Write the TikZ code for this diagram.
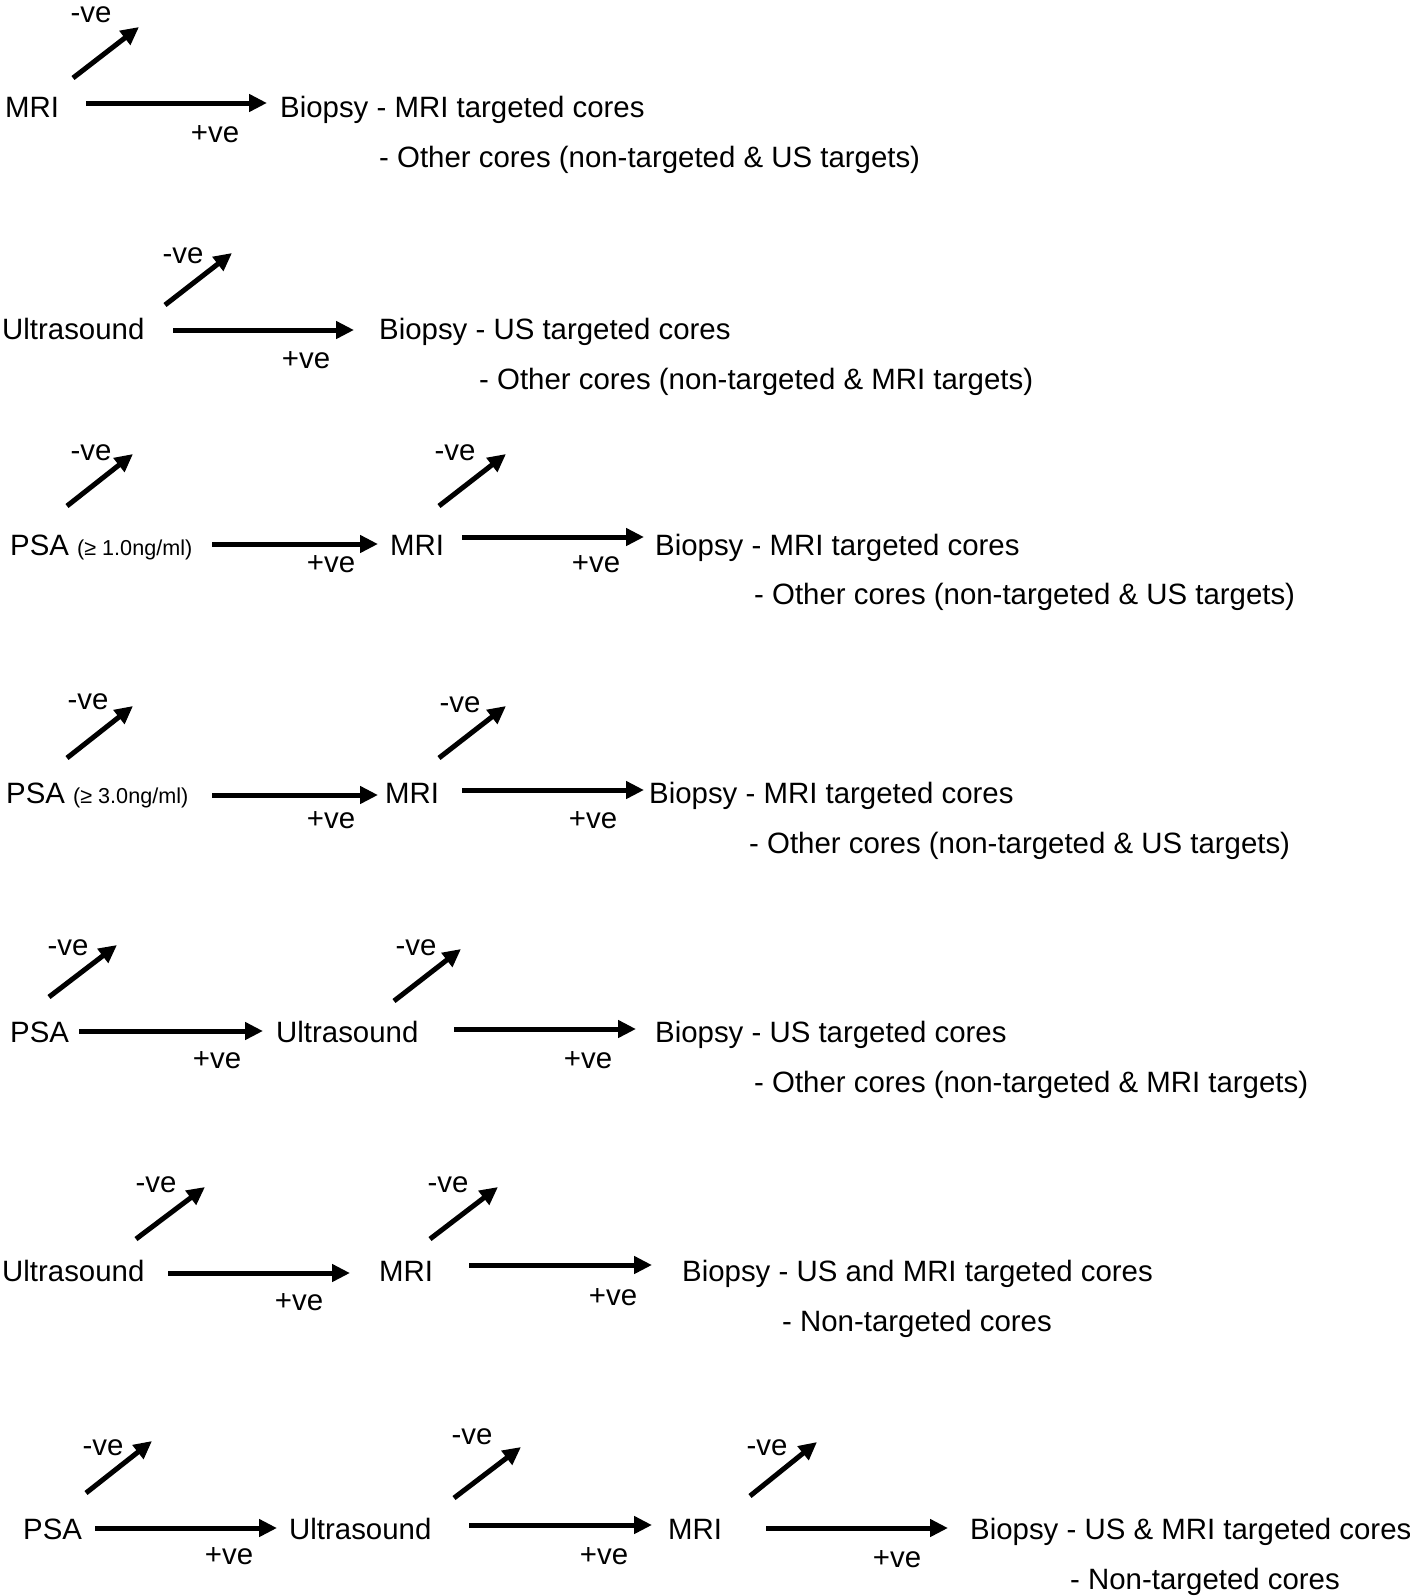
\documentclass[tikz,border=0pt]{standalone}
\usepackage{fontspec}
\setmainfont{Liberation Sans}
\usetikzlibrary{arrows.meta}
\newcommand{\smalltxt}[1]{{\fontsize{21.6}{25}\selectfont #1}}
\begin{document}
\begin{tikzpicture}[x=1pt,y=-1pt,
 arr/.style={line width=5pt,-{Triangle[length=18pt,width=17pt]}},
 txt/.style={anchor=base west,inner sep=0pt,font=\fontsize{29.4}{35}\selectfont},
 lbl/.style={anchor=base,inner sep=0pt,font=\fontsize{29.4}{35}\selectfont}]
\useasboundingbox (0,0) rectangle (1410,1596);

% Row 1
\node[txt] (r1a) at (5,117) {MRI};
\node[txt] (r1b) at (280,117) {Biopsy - MRI targeted cores};
\node[txt] (r1c) at (379,167) {- Other cores (non-targeted \& US targets)};
\node[lbl] (r1n) at (91,22) {-ve};
\node[lbl] (r1p) at (215,142) {+ve};
\draw[arr] (86,103) coordinate (r1s) -- (267,103) coordinate (r1e);
\draw[arr] (73,78) coordinate (r1ds) -- (139,27) coordinate (r1de);

% Row 2
\node[txt] (r2a) at (2,339) {Ultrasound};
\node[txt] (r2b) at (379,339) {Biopsy - US targeted cores};
\node[txt] (r2c) at (479,389) {- Other cores (non-targeted \& MRI targets)};
\node[lbl] (r2n) at (183,263) {-ve};
\node[lbl] (r2p) at (306,368) {+ve};
\draw[arr] (173,330) coordinate (r2s) -- (354,330) coordinate (r2e);
\draw[arr] (165,305) coordinate (r2ds) -- (232,253) coordinate (r2de);

% Row 3
\node[txt] (r3a) at (10,555) {PSA \smalltxt{(≥ 1.0ng/ml)}};
\node[txt] (r3m) at (390,555) {MRI};
\node[txt] (r3b) at (655,555) {Biopsy - MRI targeted cores};
\node[txt] (r3c) at (754,604) {- Other cores (non-targeted \& US targets)};
\node[lbl] (r3n1) at (91,460) {-ve};
\node[lbl] (r3n2) at (455,460) {-ve};
\node[lbl] (r3p1) at (331,572) {+ve};
\node[lbl] (r3p2) at (596,572) {+ve};
\draw[arr] (212,544) coordinate (r3s1) -- (378,544) coordinate (r3e1);
\draw[arr] (462,537) coordinate (r3s2) -- (644,537) coordinate (r3e2);
\draw[arr] (67,506) coordinate (r3ds1) -- (133,454) coordinate (r3de1);
\draw[arr] (439,506) coordinate (r3ds2) -- (506,454) coordinate (r3de2);

% Row 4
\node[txt] (r4a) at (6,803) {PSA \smalltxt{(≥ 3.0ng/ml)}};
\node[txt] (r4m) at (385,803) {MRI};
\node[txt] (r4b) at (649,803) {Biopsy - MRI targeted cores};
\node[txt] (r4c) at (749,853) {- Other cores (non-targeted \& US targets)};
\node[lbl] (r4n1) at (88,709) {-ve};
\node[lbl] (r4n2) at (460,712) {-ve};
\node[lbl] (r4p1) at (331,828) {+ve};
\node[lbl] (r4p2) at (593,828) {+ve};
\draw[arr] (212,795) coordinate (r4s1) -- (378,795) coordinate (r4e1);
\draw[arr] (462,790) coordinate (r4s2) -- (644,790) coordinate (r4e2);
\draw[arr] (67,758) coordinate (r4ds1) -- (133,706) coordinate (r4de1);
\draw[arr] (439,758) coordinate (r4ds2) -- (506,706) coordinate (r4de2);

% Row 5
\node[txt] (r5a) at (10,1042) {PSA};
\node[txt] (r5u) at (276,1042) {Ultrasound};
\node[txt] (r5b) at (655,1042) {Biopsy - US targeted cores};
\node[txt] (r5c) at (754,1092) {- Other cores (non-targeted \& MRI targets)};
\node[lbl] (r5n1) at (68,955) {-ve};
\node[lbl] (r5n2) at (416,955) {-ve};
\node[lbl] (r5p1) at (217,1068) {+ve};
\node[lbl] (r5p2) at (588,1068) {+ve};
\draw[arr] (79,1031) coordinate (r5s1) -- (263,1031) coordinate (r5e1);
\draw[arr] (454,1029) coordinate (r5s2) -- (636,1029) coordinate (r5e2);
\draw[arr] (49,997) coordinate (r5ds1) -- (117,945) coordinate (r5de1);
\draw[arr] (394,1001) coordinate (r5ds2) -- (461,949) coordinate (r5de2);

% Row 6
\node[txt] (r6a) at (2,1281) {Ultrasound};
\node[txt] (r6m) at (379,1281) {MRI};
\node[txt] (r6b) at (682,1281) {Biopsy - US and MRI targeted cores};
\node[txt] (r6c) at (782,1331) {- Non-targeted cores};
\node[lbl] (r6n1) at (156,1192) {-ve};
\node[lbl] (r6n2) at (448,1192) {-ve};
\node[lbl] (r6p1) at (299,1310) {+ve};
\node[lbl] (r6p2) at (613,1305) {+ve};
\draw[arr] (168,1273) coordinate (r6s1) -- (350,1273) coordinate (r6e1);
\draw[arr] (469,1265) coordinate (r6s2) -- (652,1265) coordinate (r6e2);
\draw[arr] (136,1239) coordinate (r6ds1) -- (205,1187) coordinate (r6de1);
\draw[arr] (430,1239) coordinate (r6ds2) -- (498,1187) coordinate (r6de2);

% Row 7
\node[txt] (r7a) at (23,1539) {PSA};
\node[txt] (r7u) at (289,1539) {Ultrasound};
\node[txt] (r7m) at (668,1539) {MRI};
\node[txt] (r7b) at (970,1539) {Biopsy - US \& MRI targeted cores};
\node[txt] (r7c) at (1070,1589) {- Non-targeted cores};
\node[lbl] (r7n1) at (103,1455) {-ve};
\node[lbl] (r7n2) at (472,1444) {-ve};
\node[lbl] (r7n3) at (767,1455) {-ve};
\node[lbl] (r7p1) at (229,1564) {+ve};
\node[lbl] (r7p2) at (604,1564) {+ve};
\node[lbl] (r7p3) at (897,1567) {+ve};
\draw[arr] (95,1528) coordinate (r7s1) -- (277,1528) coordinate (r7e1);
\draw[arr] (469,1525) coordinate (r7s2) -- (652,1525) coordinate (r7e2);
\draw[arr] (766,1528) coordinate (r7s3) -- (948,1528) coordinate (r7e3);
\draw[arr] (86,1493) coordinate (r7ds1) -- (152,1441) coordinate (r7de1);
\draw[arr] (454,1498) coordinate (r7ds2) -- (521,1447) coordinate (r7de2);
\draw[arr] (750,1496) coordinate (r7ds3) -- (817,1442) coordinate (r7de3);
\end{tikzpicture}
\end{document}
